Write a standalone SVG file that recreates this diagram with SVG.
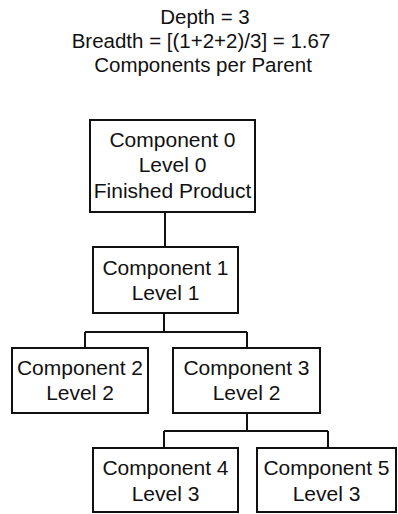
<svg xmlns="http://www.w3.org/2000/svg" width="398" height="514" viewBox="0 0 398 514">
  <style>
    text { font-family: "Liberation Sans", Arial, sans-serif; font-size: 21px; fill: #111; text-anchor: middle; }
    .title { font-size: 20.5px; }
    .box { fill: #fff; stroke: #111; stroke-width: 2; }
    .wire { fill: none; stroke: #111; stroke-width: 2; }
  </style>
  <rect width="398" height="514" fill="#fff"/>

  <g id="title">
    <text class="title" x="205" y="24">Depth = 3</text>
    <text class="title" x="201" y="48">Breadth = [(1+2+2)/3] = 1.67</text>
    <text class="title" x="203" y="72">Components per Parent</text>
  </g>

  <g id="connectors">
    <path class="wire" d="M165 212 V247"/>
    <path class="wire" d="M164 313 V332 M85 332 H247 M85 332 V348 M247 332 V348"/>
    <path class="wire" d="M247 413 V431 M164 431 H328 M164 431 V448 M328 431 V448"/>
  </g>

  <g id="component0">
    <rect class="box" x="90" y="120" width="165" height="92"/>
    <text x="172.5" y="147">Component 0</text>
    <text x="172.5" y="172">Level 0</text>
    <text x="172.5" y="198">Finished Product</text>
  </g>

  <g id="component1">
    <rect class="box" x="93" y="247" width="145" height="66"/>
    <text x="165.5" y="275">Component 1</text>
    <text x="165.5" y="300">Level 1</text>
  </g>

  <g id="component2">
    <rect class="box" x="12" y="348" width="136" height="65"/>
    <text x="80" y="375">Component 2</text>
    <text x="80" y="400">Level 2</text>
  </g>

  <g id="component3">
    <rect class="box" x="173" y="348" width="147" height="65"/>
    <text x="246.5" y="375">Component 3</text>
    <text x="246.5" y="400">Level 2</text>
  </g>

  <g id="component4">
    <rect class="box" x="93" y="448" width="145" height="64"/>
    <text x="165.5" y="475">Component 4</text>
    <text x="165.5" y="501">Level 3</text>
  </g>

  <g id="component5">
    <rect class="box" x="257" y="448" width="139" height="64"/>
    <text x="326.5" y="475">Component 5</text>
    <text x="326.5" y="501">Level 3</text>
  </g>
</svg>
